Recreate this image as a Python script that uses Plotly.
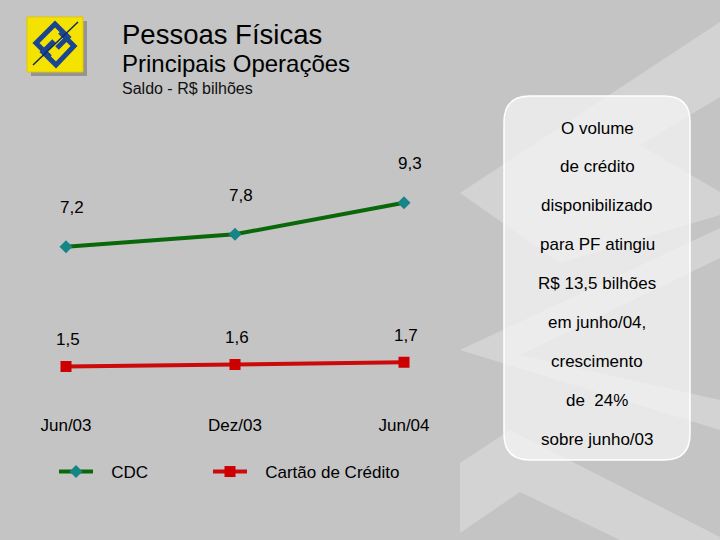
import plotly.graph_objects as go

# ---------------- data ----------------
categories = ["Jun/03", "Dez/03", "Jun/04"]
cdc_values = [7.2, 7.8, 9.3]
cartao_values = [1.5, 1.6, 1.7]
series_names = ["CDC", "Cartão de Crédito"]

title_main = "Pessoas Físicas"
title_sub = "Principais Operações"
title_unit = "Saldo - R$ bilhões"

panel_lines = [
    "O volume",
    "de crédito",
    "disponibilizado",
    "para PF atingiu",
    "R$ 13,5 bilhões",
    "em junho/04,",
    "crescimento",
    "de  24%",
    "sobre junho/03",
]

# ---------------- helpers (pixel -> paper) ----------------
W, H = 720, 540
FONT = "Liberation Sans, Arial, sans-serif"
PAD = "\u2002\u00a0"  # gap between legend symbol and text


def X(px):
    return px / W


def Y(py):
    return 1 - py / H


def path(pts, close=True):
    s = "M " + " L ".join(f"{X(a):.5f},{Y(b):.5f}" for a, b in pts)
    return s + (" Z" if close else "")


def rounded_rect(x0, y0, x1, y1, r):
    def p(a, b):
        return f"{X(a):.5f},{Y(b):.5f}"
    return (f"M {p(x0 + r, y0)} L {p(x1 - r, y0)} Q {p(x1, y0)} {p(x1, y0 + r)} "
            f"L {p(x1, y1 - r)} Q {p(x1, y1)} {p(x1 - r, y1)} "
            f"L {p(x0 + r, y1)} Q {p(x0, y1)} {p(x0, y1 - r)} "
            f"L {p(x0, y0 + r)} Q {p(x0, y0)} {p(x0 + r, y0)} Z")


def fmt(v):
    return f"{v:.1f}".replace(".", ",")


fig = go.Figure()

fig.add_trace(go.Scatter(
    x=categories, y=cdc_values, name=PAD + series_names[0], mode="lines+markers",
    line=dict(color="#0a680a", width=4), legend="legend",
    marker=dict(symbol="diamond", size=10, color="#178585", line=dict(width=0)),
))
fig.add_trace(go.Scatter(
    x=categories, y=cartao_values, name=PAD + series_names[1], mode="lines+markers",
    line=dict(color="#cc0a0a", width=4), legend="legend2",
    marker=dict(symbol="square", size=11, color="#cc0000", line=dict(width=0)),
))

annotations = []
# titles
annotations.append(dict(text=title_main, x=X(120), y=Y(34), xref="paper", yref="paper",
                        xanchor="left", yanchor="middle", showarrow=False,
                        font=dict(family=FONT, size=27.5, color="#000")))
annotations.append(dict(text=title_sub, x=X(120), y=Y(64), xref="paper", yref="paper",
                        xanchor="left", yanchor="middle", showarrow=False,
                        font=dict(family=FONT, size=24, color="#000")))
annotations.append(dict(text=title_unit, x=X(120), y=Y(88), xref="paper", yref="paper",
                        xanchor="left", yanchor="middle", showarrow=False,
                        font=dict(family=FONT, size=16, color="#111")))

# value labels
for c, v in zip(categories, cdc_values):
    annotations.append(dict(text=fmt(v), x=c, y=v, xref="x", yref="y", showarrow=False,
                            xshift=6, yshift=39, font=dict(family=FONT, size=17, color="#000")))
for c, v in zip(categories, cartao_values):
    annotations.append(dict(text=fmt(v), x=c, y=v, xref="x", yref="y", showarrow=False,
                            xshift=2, yshift=27, font=dict(family=FONT, size=17, color="#000")))

# panel text
for i, line in enumerate(panel_lines):
    annotations.append(dict(text=line, x=X(597), y=Y(128 + i * 38.9), xref="paper", yref="paper",
                            xanchor="center", yanchor="middle", showarrow=False,
                            font=dict(family=FONT, size=17, color="#000")))

shapes = []
light = "rgba(255,255,255,0.26)"
# watermark bands
shapes.append(dict(type="path", xref="paper", yref="paper", layer="below", line=dict(width=0),
                   fillcolor=light,
                   path=path([(460, 193), (720, 22), (720, 97), (640, 145), (720, 192), (720, 215), (560, 263)])))
shapes.append(dict(type="path", xref="paper", yref="paper", layer="below", line=dict(width=0),
                   fillcolor=light,
                   path=path([(460, 350), (720, 228), (720, 258), (520, 355), (720, 400), (720, 430)])))
shapes.append(dict(type="path", xref="paper", yref="paper", layer="below", line=dict(width=0),
                   fillcolor=light,
                   path=path([(460, 463), (510, 430), (720, 537), (720, 540), (620, 540), (520, 492), (460, 533)])))

# panel
shapes.append(dict(type="path", xref="paper", yref="paper", layer="below",
                   fillcolor="rgba(245,245,245,0.72)", line=dict(color="#ffffff", width=1.5),
                   path=rounded_rect(504, 96, 690, 460, 26)))

# logo
shapes.append(dict(type="rect", xref="paper", yref="paper", layer="above",
                   x0=X(31), x1=X(87), y0=Y(76), y1=Y(21), fillcolor="rgba(90,90,90,0.45)", line=dict(width=0)))
shapes.append(dict(type="rect", xref="paper", yref="paper", layer="above",
                   x0=X(27), x1=X(83), y0=Y(72), y1=Y(17), fillcolor="#f4e200", line=dict(color="#e0c800", width=1)))
shapes.append(dict(type="path", xref="paper", yref="paper", layer="above",
                   line=dict(color="#1a4590", width=5),
                   path=path([(50, 57), (36, 43), (55, 24), (68, 37), (57, 48)], close=False)))
shapes.append(dict(type="path", xref="paper", yref="paper", layer="above",
                   line=dict(color="#1a4590", width=5),
                   path=path([(60, 32), (74, 46), (56, 65), (43, 52), (54, 41)], close=False)))
shapes.append(dict(type="path", xref="paper", yref="paper", layer="above",
                   line=dict(color="#0e2a66", width=1.5),
                   path=path([(33, 65), (78, 22)], close=False)))

legend_common = dict(orientation="h", xanchor="left", yanchor="middle",
                     bgcolor="rgba(0,0,0,0)", font=dict(family=FONT, size=17, color="#000"),
                     itemwidth=34)

fig.update_layout(
    width=W, height=H,
    margin=dict(l=0, r=0, t=0, b=0),
    paper_bgcolor="#c4c4c4",
    plot_bgcolor="rgba(0,0,0,0)",
    font=dict(family=FONT, color="#000"),
    showlegend=True,
    legend=dict(x=X(54), y=Y(472), **legend_common),
    legend2=dict(x=X(208), y=Y(472), **legend_common),
    xaxis=dict(type="category", range=[-0.3, 2.3], domain=[X(15.3), X(454.7)],
               showgrid=False, zeroline=False, showline=False, ticks="",
               ticklabelstandoff=3,
               tickfont=dict(family=FONT, size=17, color="#000"), fixedrange=True),
    yaxis=dict(range=[-0.571, 12.286], domain=[Y(410), Y(140)], visible=False,
               showgrid=False, zeroline=False, fixedrange=True),
    annotations=annotations,
    shapes=shapes,
)

fig.write_html("out.html", config={"displayModeBar": False},
               post_script="document.body.style.margin='0';document.body.style.background='#c4c4c4';")
